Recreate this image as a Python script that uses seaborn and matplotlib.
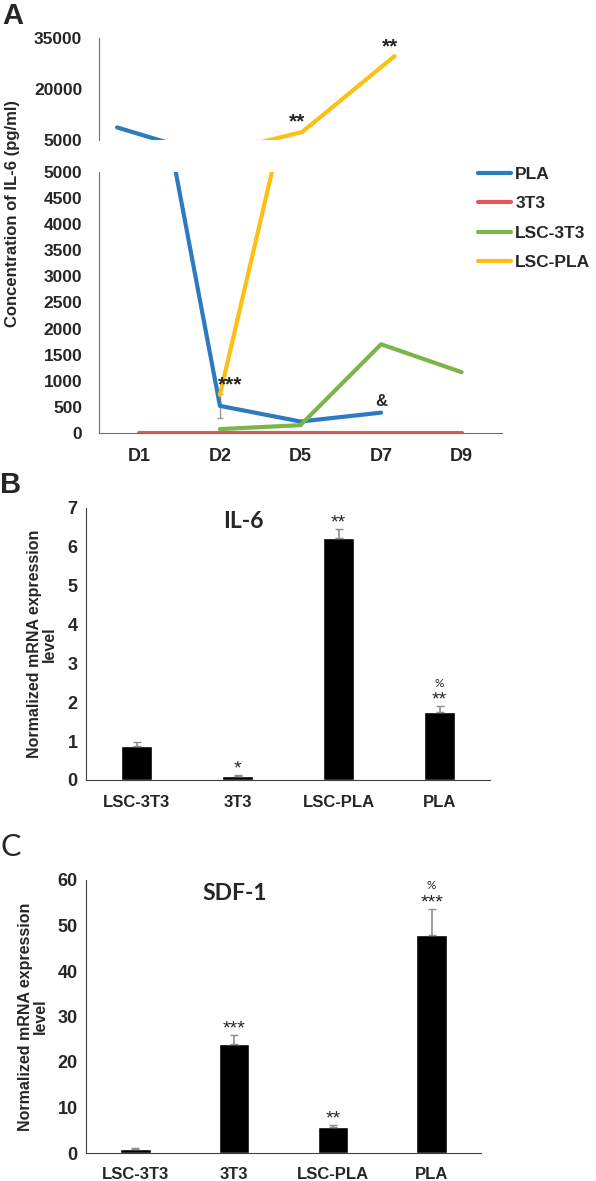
import numpy as np
import pandas as pd
import matplotlib
matplotlib.use("Agg")
import matplotlib.pyplot as plt
import seaborn as sns

days = ["D1", "D2", "D5", "D7", "D9"]
series_names = ["PLA", "3T3", "LSC-3T3", "LSC-PLA"]
pla = [8700, 520, 220, 390, np.nan]
t3 = [8, 8, 8, 8, 8]
lsc_3t3 = [np.nan, 75, 150, 1700, 1165]
lsc_pla = [np.nan, 730, 7350, 29700, np.nan]
pla_d2_err = 230

groups = ["LSC-3T3", "3T3", "LSC-PLA", "PLA"]
il6_mrna = [0.87, 0.11, 6.22, 1.75]
il6_err = [0.11, 0.03, 0.23, 0.15]
il6_marks = ["", "*", "**", "**"]
il6_pct = ["", "", "", "%"]
sdf1_mrna = [0.9, 24.0, 5.7, 47.9]
sdf1_err = [0.15, 2.0, 0.4, 5.7]
sdf1_marks = ["", "***", "**", "***"]
sdf1_pct = ["", "", "", "%"]

colors = {"PLA": "#2c7bbf", "3T3": "#e05a5a", "LSC-3T3": "#7cb547", "LSC-PLA": "#fcbf14"}

sns.set_style("white")
plt.rcParams["font.family"] = ["Liberation Sans", "DejaVu Sans"]
plt.rcParams["font.weight"] = "bold"
narrow = ["Liberation Sans Narrow", "Liberation Sans", "DejaVu Sans"]
calib = ["Lato", "DejaVu Sans"]

rows = []
for name, vals in zip(series_names, [pla, t3, lsc_3t3, lsc_pla]):
    for i, v in enumerate(vals):
        if not np.isnan(v):
            rows.append({"pos": i, "value": v, "series": name})
lines_df = pd.DataFrame(rows)

W, H = 596, 1181
fig = plt.figure(figsize=(W / 100, H / 100), dpi=100)


def box(x0, y0, x1, y1):
    return [x0 / W, 1 - y1 / H, (x1 - x0) / W, (y1 - y0) / H]


gray = "#6f6f6f"

# panel A, upper part of the broken axis
ax_top = fig.add_axes(box(99, 38, 502, 140))
sns.lineplot(data=lines_df, x="pos", y="value", hue="series", hue_order=series_names,
             palette=colors, linewidth=3, errorbar=None, legend=False, ax=ax_top)
ax_top.set_ylim(5000, 35000)
ax_top.set_xlim(-0.195, 4.16)
ax_top.set_yticks([5000, 20000, 35000])
ax_top.set_xticks([])
for s in ["top", "right", "bottom"]:
    ax_top.spines[s].set_visible(False)
ax_top.spines["left"].set_color(gray)
ax_top.tick_params(axis="y", length=0, pad=12, labelsize=12.5)
ax_top.set_xlabel("")
ax_top.set_ylabel("")
ax_top.text(1.95, 10300, "**", ha="center", va="center", fontsize=15)
ax_top.text(2.95, 32300, "**", ha="center", va="center", fontsize=15)

# panel A, lower part
ax_bot = fig.add_axes(box(99, 172, 502, 433))
sns.lineplot(data=lines_df, x="pos", y="value", hue="series", hue_order=series_names,
             palette=colors, linewidth=3, errorbar=None, ax=ax_bot)
ax_bot.errorbar([1], [pla[1]], yerr=[[pla_d2_err], [pla_d2_err]], fmt="none",
                ecolor="#9a9a9a", elinewidth=1, capsize=2.5, zorder=1)
ax_bot.set_ylim(0, 5000)
ax_bot.set_xlim(-0.5, 4.5)
ax_bot.set_yticks(np.arange(0, 5001, 500))
ax_bot.set_xticks(range(len(days)))
ax_bot.set_xticklabels(days)
for s in ["top", "right"]:
    ax_bot.spines[s].set_visible(False)
ax_bot.spines["left"].set_color(gray)
ax_bot.spines["bottom"].set_color(gray)
ax_bot.tick_params(axis="y", length=0, pad=12, labelsize=12.5)
ax_bot.tick_params(axis="x", length=0, pad=11, labelsize=13)
ax_bot.set_xlabel("")
ax_bot.set_ylabel("")
ax_bot.text(0.98, 920, "***", ha="left", va="center", fontsize=15)
ax_bot.text(3.0, 600, "&", ha="center", va="center", fontsize=12)
handles, labels = ax_bot.get_legend_handles_labels()
leg = ax_bot.legend(handles, labels, loc="upper left", bbox_to_anchor=(0.94, 1.02),
                    frameon=False, fontsize=12.5, handlelength=1.9, handletextpad=0.25,
                    labelspacing=0.82, borderpad=0, borderaxespad=0)
for line in leg.get_lines():
    line.set_linewidth(3)

fig.text(13 / W, 1 - 214 / H, "Concentration of IL-6 (pg/ml)", rotation=90,
         ha="center", va="center", fontsize=12)


def bar_panel(rect, values, errs, marks, pcts, ymax, step, title, title_xy, lab_x, pad):
    ax = fig.add_axes(rect)
    df = pd.DataFrame({"group": groups, "value": values})
    sns.barplot(data=df, x="group", y="value", color="black", width=0.31,
                errorbar=None, ax=ax, saturation=1)
    ax.errorbar(range(len(groups)), values, yerr=[np.zeros(len(errs)), errs], fmt="none",
                ecolor="#8c8c8c", elinewidth=1.2, capsize=3, zorder=1)
    ax.set_xlim(-0.5, 3.5)
    ax.set_ylim(0, ymax)
    ax.set_yticks(np.arange(0, ymax + step / 2, step))
    for s in ["top", "right"]:
        ax.spines[s].set_visible(False)
    ax.spines["left"].set_color("#404040")
    ax.spines["bottom"].set_color("#404040")
    ax.tick_params(axis="y", length=3, width=0.8, color="#404040", pad=3, labelsize=13)
    ax.tick_params(axis="x", length=0, pad=pad, labelsize=12)
    for lab in ax.get_yticklabels() + ax.get_xticklabels():
        lab.set_family(narrow)
    ax.set_xlabel("")
    ax.set_ylabel("")
    ax.text(title_xy[0], title_xy[1], title, transform=ax.transAxes, ha="center",
            va="center", fontsize=16.5, family=calib, fontweight="bold")
    for i, (v, e, m, p) in enumerate(zip(values, errs, marks, pcts)):
        top = v + e
        if m:
            ax.text(i, top + ymax * 0.022, m, ha="center", va="center", fontsize=14,
                    fontweight="normal", clip_on=False)
        if p:
            ax.text(i, top + ymax * 0.085, p, ha="center", va="center", fontsize=8.5,
                    family=calib, fontweight="normal", clip_on=False)
    y_mid = rect[1] + rect[3] / 2
    fig.text(lab_x / W, y_mid, "Normalized mRNA expression\nlevel", rotation=90,
             ha="center", va="center", fontsize=11.5, linespacing=1.05)
    return ax


bar_panel(box(86, 508, 490, 780), il6_mrna, il6_err, il6_marks, il6_pct,
          7, 1, "IL-6", (0.389, 0.949), 42, 11)
bar_panel(box(86, 880, 481, 1153), sdf1_mrna, sdf1_err, sdf1_marks, sdf1_pct,
          60, 10, "SDF-1", (0.377, 0.952), 33, 10)

fig.text(13 / W, 1 - 16 / H, "A", ha="center", va="center", fontsize=21)
fig.text(11 / W, 1 - 485 / H, "B", ha="center", va="center", fontsize=21)
fig.text(11 / W, 1 - 847 / H, "C", ha="center", va="center", fontsize=22,
         family=calib, fontweight="normal")

fig.savefig("out.png", dpi=100)
